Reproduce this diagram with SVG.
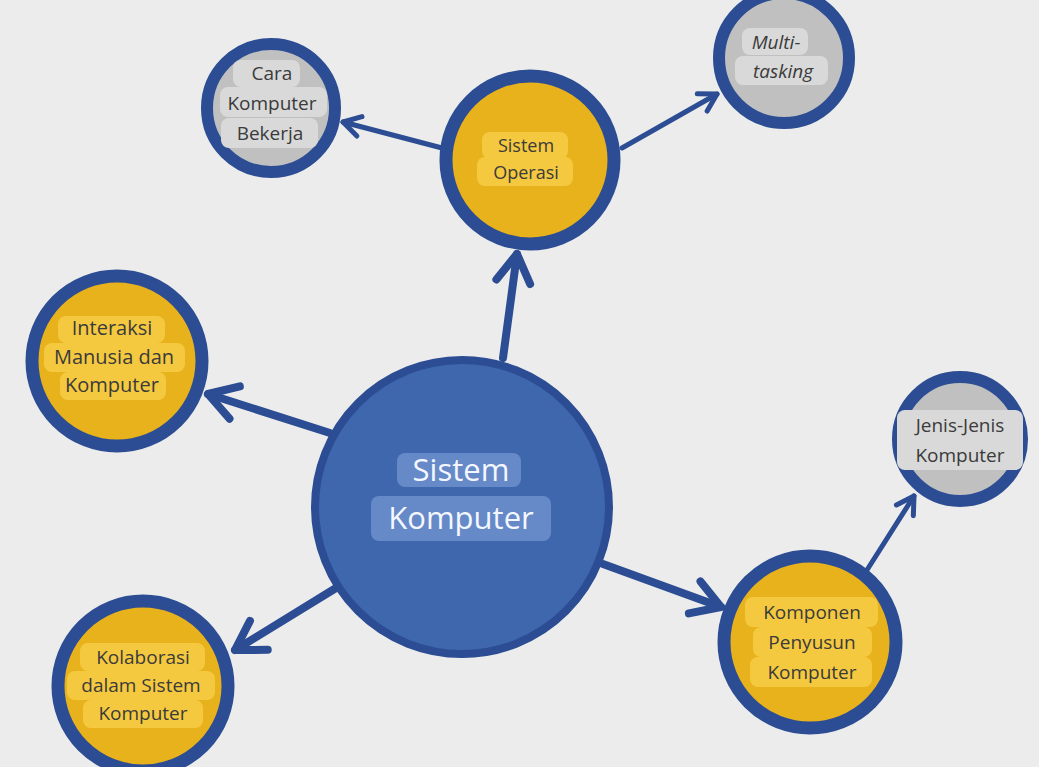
<svg xmlns="http://www.w3.org/2000/svg" width="1039" height="767" viewBox="0 0 1039 767">
<defs>
<style>
.bg{fill:#ececec}
.ring{stroke:#2c4d93}
.gold{fill:#e8b21c}
.gray{fill:#c0c0c0}
.goldbox{fill:#f5c93f}
.graybox{fill:#d9d9d9}
.bluebox{fill:#6d8fcb;opacity:0.85}
.t{font-family:"Open Sans","Noto Sans",sans-serif;fill:#3b3b3b;text-anchor:middle}
.tc{font-family:"Open Sans","Noto Sans",sans-serif;fill:#f4f7ff;text-anchor:middle;font-size:31px}
.conn{stroke:#2c4d93;fill:none;stroke-linecap:round}
.big{stroke-width:8}
.small{stroke-width:5}
</style>
<marker id="ahBig" viewBox="-36 -24 42 48" markerWidth="42" markerHeight="48" refX="0" refY="0" markerUnits="userSpaceOnUse" orient="auto">
<path d="M-28,-17 L0,0 L-28,17" fill="none" stroke="#2c4d93" stroke-width="8" stroke-linecap="round" stroke-linejoin="round"/>
</marker>
<marker id="ahSmall" viewBox="-24 -16 30 32" markerWidth="30" markerHeight="32" refX="0" refY="0" markerUnits="userSpaceOnUse" orient="auto">
<path d="M-17,-10 L0,0 L-17,10" fill="none" stroke="#2c4d93" stroke-width="5" stroke-linecap="round" stroke-linejoin="round"/>
</marker>
</defs>
<rect class="bg" x="0" y="0" width="1039" height="767"/>

<g id="connectors">
<line class="conn big" x1="503" y1="358" x2="517" y2="254" marker-end="url(#ahBig)"/>
<line class="conn small" x1="442" y1="148" x2="343" y2="122" marker-end="url(#ahSmall)"/>
<line class="conn small" x1="622" y1="148" x2="717" y2="94" marker-end="url(#ahSmall)"/>
<line class="conn big" x1="330" y1="433" x2="208" y2="394" marker-end="url(#ahBig)"/>
<line class="conn big" x1="336" y1="588" x2="235" y2="650" marker-end="url(#ahBig)"/>
<line class="conn big" x1="603" y1="564" x2="721" y2="607" marker-end="url(#ahBig)"/>
<line class="conn small" x1="867" y1="570" x2="914" y2="496" marker-end="url(#ahSmall)"/>
</g>

<g id="node-sistem-komputer">
<circle class="ring" cx="462" cy="507" r="147" fill="#3e67ad" stroke-width="8"/>
<rect class="bluebox" x="397" y="453" width="124" height="34" rx="8"/>
<rect class="bluebox" x="371" y="496" width="180" height="45" rx="8"/>
<text class="tc" x="461" y="481">Sistem</text>
<text class="tc" x="461" y="529">Komputer</text>
</g>

<g id="node-sistem-operasi">
<circle class="ring gold" cx="530" cy="160" r="84" stroke-width="13"/>
<rect class="goldbox" x="482" y="132" width="86" height="27" rx="8"/>
<rect class="goldbox" x="477" y="157" width="96" height="29" rx="8"/>
<text class="t" x="526" y="152" font-size="18">Sistem</text>
<text class="t" x="526" y="179" font-size="18">Operasi</text>
</g>

<g id="node-cara-komputer">
<circle class="ring gray" cx="271" cy="108" r="64" stroke-width="12"/>
<rect class="graybox" x="233" y="60" width="67" height="27" rx="8"/>
<rect class="graybox" x="220" y="87" width="107" height="30" rx="8"/>
<rect class="graybox" x="221" y="118" width="97" height="30" rx="8"/>
<text class="t" x="272" y="80" font-size="19">Cara</text>
<text class="t" x="272" y="110" font-size="19">Komputer</text>
<text class="t" x="270" y="140" font-size="19">Bekerja</text>
</g>

<g id="node-multitasking">
<circle class="ring gray" cx="784" cy="58" r="65" stroke-width="12"/>
<rect class="graybox" x="742" y="28" width="66" height="27" rx="8"/>
<rect class="graybox" x="735" y="56" width="93" height="29" rx="8"/>
<text class="t" x="776" y="49" font-size="19" font-style="italic">Multi-</text>
<text class="t" x="783" y="78" font-size="19" font-style="italic">tasking</text>
</g>

<g id="node-interaksi">
<circle class="ring gold" cx="117" cy="361" r="85" stroke-width="13"/>
<rect class="goldbox" x="58" y="316" width="107" height="27" rx="8"/>
<rect class="goldbox" x="44" y="343" width="141" height="29" rx="8"/>
<rect class="goldbox" x="60" y="372" width="106" height="28" rx="8"/>
<text class="t" x="112" y="335" font-size="20">Interaksi</text>
<text class="t" x="114" y="364" font-size="20">Manusia dan</text>
<text class="t" x="112" y="392" font-size="20">Komputer</text>
</g>

<g id="node-kolaborasi">
<circle class="ring gold" cx="143" cy="686" r="85" stroke-width="13"/>
<rect class="goldbox" x="80" y="643" width="125" height="28" rx="8"/>
<rect class="goldbox" x="67" y="671" width="148" height="29" rx="8"/>
<rect class="goldbox" x="83" y="700" width="120" height="28" rx="8"/>
<text class="t" x="143" y="664" font-size="19">Kolaborasi</text>
<text class="t" x="141" y="692" font-size="19">dalam Sistem</text>
<text class="t" x="143" y="720" font-size="19">Komputer</text>
</g>

<g id="node-komponen">
<circle class="ring gold" cx="810" cy="642" r="86" stroke-width="13"/>
<rect class="goldbox" x="745" y="597" width="133" height="30" rx="8"/>
<rect class="goldbox" x="753" y="627" width="119" height="30" rx="8"/>
<rect class="goldbox" x="750" y="657" width="122" height="30" rx="8"/>
<text class="t" x="812" y="619" font-size="19">Komponen</text>
<text class="t" x="812" y="649" font-size="19">Penyusun</text>
<text class="t" x="812" y="679" font-size="19">Komputer</text>
</g>

<g id="node-jenis">
<circle class="ring gray" cx="960" cy="439" r="62" stroke-width="12"/>
<rect class="graybox" x="897" y="410" width="126" height="60" rx="8"/>
<text class="t" x="960" y="432" font-size="19">Jenis-Jenis</text>
<text class="t" x="960" y="462" font-size="19">Komputer</text>
</g>
</svg>
